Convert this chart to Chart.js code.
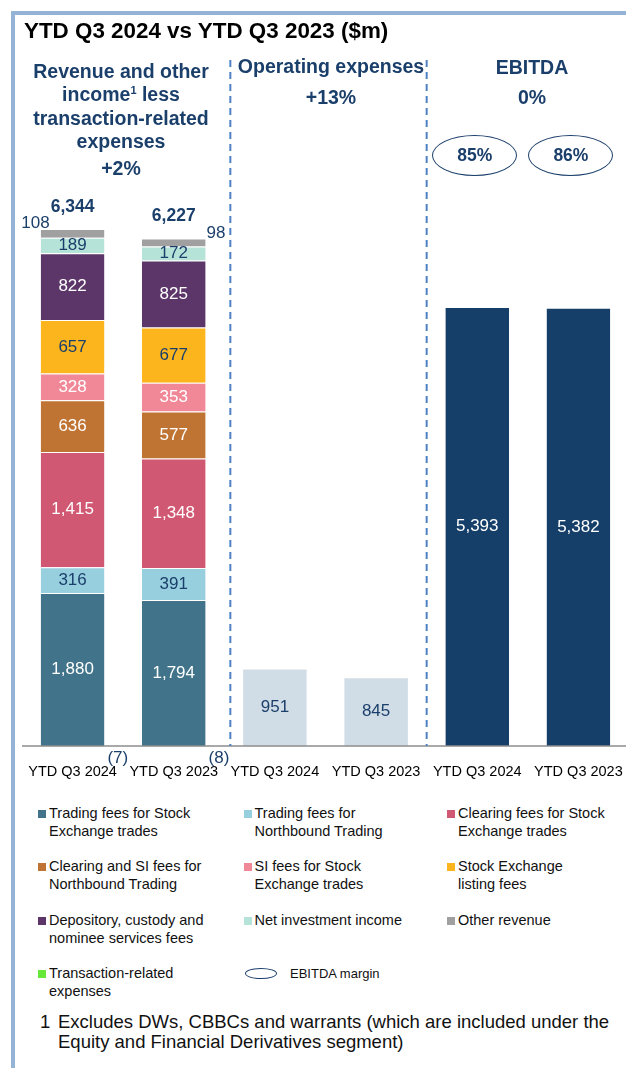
<!DOCTYPE html>
<html>
<head>
<meta charset="utf-8">
<script src="https://cdn.jsdelivr.net/npm/chart.js@4/dist/chart.umd.min.js"></script>
<style>
  html, body { margin: 0; padding: 0; width: 626px; height: 1068px; overflow: hidden; background: #fff; }
  body { position: relative; font-family: "Liberation Sans", Arial, sans-serif; }
  .frame { position: absolute; left: 11px; top: 11px; width: 700px; height: 1100px;
           border-left: 4px solid #95b3d7; border-top: 4px solid #95b3d7; }
  #chart { position: absolute; left: 0; top: 0; }
  .abs { position: absolute; white-space: nowrap; }
  .title { left: 24px; top: 20px; font-size: 22.4px; line-height: 22px; font-weight: bold; color: #000; }
  .head { font-weight: bold; font-size: 19.5px; color: #1b3f6b; text-align: center; }
  .head sup { font-size: 11px; line-height: 0; vertical-align: 7px; }
  .oval { width: 83px; height: 39px; border: 1.5px solid #1b3f6b; border-radius: 50%;
          text-align: center; line-height: 39px; font-weight: bold; font-size: 17.5px; color: #1b3f6b; }
  .leg { font-size: 14.5px; line-height: 17.5px; color: #111; }
  .leg .sw { position: absolute; left: 0; top: 5px; width: 8px; height: 8px; }
  .leg .tx { margin-left: 11px; }
  .foot { font-size: 18.5px; line-height: 20px; color: #111; }
</style>
</head>
<body>
<div class="frame"></div>
<canvas id="chart" width="640" height="790"></canvas>

<div class="abs title">YTD Q3 2024 vs YTD Q3 2023 ($m)</div>
<div class="abs head" style="left:21px;top:60px;width:200px;line-height:23.3px;">Revenue and other<br>income<sup>1</sup> less<br>transaction-related<br>expenses</div>
<div class="abs head" style="left:21px;top:157px;width:200px;line-height:23px;">+2%</div>
<div class="abs head" style="left:231px;top:55px;width:200px;line-height:23px;">Operating expenses</div>
<div class="abs head" style="left:231px;top:86px;width:200px;line-height:23px;">+13%</div>
<div class="abs head" style="left:432px;top:56px;width:200px;line-height:23px;">EBITDA</div>
<div class="abs head" style="left:432px;top:86px;width:200px;line-height:23px;">0%</div>
<div id="ovals"></div>
<div id="legend"></div>
<div class="abs foot" style="left:40px;top:1012px;">1</div>
<div class="abs foot" style="left:58px;top:1012px;">Excludes DWs, CBBCs and warrants (which are included under the<br>Equity and Financial Derivatives segment)</div>

<script>
const categories = ['YTD Q3 2024', 'YTD Q3 2023', 'YTD Q3 2024', 'YTD Q3 2023', 'YTD Q3 2024', 'YTD Q3 2023'];

// revenue components, YTD Q3 2024 / YTD Q3 2023
const tradingFeesSE = [1880, 1794];
const tradingFeesNB = [316, 391];
const clearingFeesSE = [1415, 1348];
const clearingSiFeesNB = [636, 577];
const siFeesSE = [328, 353];
const listingFees = [657, 677];
const depositoryFees = [822, 825];
const netInvestment = [189, 172];
const otherRevenue = [108, 98];
const transactionExp = [-7, -8];
const revenueTotals = [6344, 6227];

const opex = [951, 845];
const ebitda = [5393, 5382];
const ebitdaMargin = ['85%', '86%'];

const NAVY = '#1b3f6b';
const FONT = '"Liberation Sans", Arial, sans-serif';

const rev = a => [...a, null, null, null, null];
const mid = a => [null, null, ...a, null, null];
const right = a => [null, null, null, null, ...a];

const series = [
  { label: 'Trading fees for Stock\nExchange trades', data: rev(tradingFeesSE), color: '#41738a', txt: '#fff' },
  { label: 'Trading fees for\nNorthbound Trading', data: rev(tradingFeesNB), color: '#98cfdf', txt: NAVY },
  { label: 'Clearing fees for Stock\nExchange trades', data: rev(clearingFeesSE), color: '#d15872', txt: '#fff' },
  { label: 'Clearing and SI fees for\nNorthbound Trading', data: rev(clearingSiFeesNB), color: '#c07433', txt: '#fff' },
  { label: 'SI fees for Stock\nExchange trades', data: rev(siFeesSE), color: '#f08898', txt: '#fff' },
  { label: 'Stock Exchange\nlisting fees', data: rev(listingFees), color: '#fdb51d', txt: NAVY },
  { label: 'Depository, custody and\nnominee services fees', data: rev(depositoryFees), color: '#5d3669', txt: '#fff' },
  { label: 'Net investment income', data: rev(netInvestment), color: '#b5e3d8', txt: NAVY },
  { label: 'Other revenue', data: rev(otherRevenue), color: '#a0a0a0', txt: NAVY, mode: 'side' },
  { label: 'Transaction-related\nexpenses', data: rev(transactionExp), color: '#66e838', txt: NAVY, mode: 'below' },
  { label: 'Operating expenses', data: mid(opex), color: '#d1dde6', txt: NAVY, noLegend: true },
  { label: 'EBITDA', data: right(ebitda), color: '#153f69', txt: '#fff', noLegend: true }
];

const fmt = v => v < 0 ? '(' + Math.abs(v).toLocaleString('en-US') + ')' : v.toLocaleString('en-US');

const extras = {
  id: 'extras',
  afterDatasetsDraw(chart) {
    const ctx = chart.ctx;
    const xs = chart.scales.x, ys = chart.scales.y;
    const area = chart.chartArea;
    const zero = ys.getPixelForValue(0);

    // baseline
    ctx.save();
    ctx.strokeStyle = '#8c8c8c';
    ctx.lineWidth = 1.5;
    ctx.beginPath();
    ctx.moveTo(area.left, zero);
    ctx.lineTo(626, zero);
    ctx.stroke();

    // dashed separators
    ctx.strokeStyle = '#4f81c4';
    ctx.lineWidth = 2;
    ctx.setLineDash([7, 5]);
    [[1, 2, 6], [3, 4, 0]].forEach(([a, b, dx]) => {
      const x = (xs.getPixelForValue(a) + xs.getPixelForValue(b)) / 2 + dx;
      ctx.beginPath();
      ctx.moveTo(x, area.top);
      ctx.lineTo(x, zero);
      ctx.stroke();
    });
    ctx.setLineDash([]);

    // value labels
    ctx.textBaseline = 'middle';
    chart.data.datasets.forEach((ds, i) => {
      const meta = chart.getDatasetMeta(i);
      const s = series[i];
      meta.data.forEach((bar, j) => {
        const v = ds.data[j];
        if (v == null) return;
        const p = bar.getProps(['x', 'y', 'base', 'width'], true);
        const top = Math.min(p.y, p.base);
        ctx.fillStyle = s.txt;
        ctx.font = '17px ' + FONT;
        if (s.mode === 'side') {
          if (j === 0) { ctx.textAlign = 'right'; ctx.fillText(fmt(v), p.x - p.width / 2 + 9, top - 6); }
          else { ctx.textAlign = 'left'; ctx.fillText(fmt(v), p.x + p.width / 2 + 1, top - 5); }
        } else if (s.mode === 'below') {
          ctx.textAlign = 'left';
          ctx.fillText(fmt(v), p.x + p.width / 2 + 3, zero + 12);
        } else {
          ctx.textAlign = 'center';
          ctx.fillText(fmt(v), p.x, (p.y + p.base) / 2);
        }
      });
    });

    // totals above revenue bars
    const otherMeta = chart.getDatasetMeta(8);
    ctx.font = 'bold 17.5px ' + FONT;
    ctx.fillStyle = NAVY;
    ctx.textAlign = 'center';
    revenueTotals.forEach((t, j) => {
      const bar = otherMeta.data[j];
      ctx.fillText(fmt(t), bar.x, bar.y - 22);
    });
    ctx.restore();
  }
};

const chart = new Chart(document.getElementById('chart'), {
  type: 'bar',
  data: {
    labels: categories,
    datasets: series.map(s => ({
      label: s.label,
      data: s.data,
      backgroundColor: s.color,
      borderColor: 'rgba(255,255,255,0.35)',
      borderWidth: { top: 1, bottom: 0, left: 0, right: 0 },
      borderSkipped: false,
      stack: 'all',
      barPercentage: 0.63,
      categoryPercentage: 1
    }))
  },
  options: {
    responsive: false,
    animation: false,
    devicePixelRatio: 1,
    layout: { padding: { top: 60, left: 22, right: 11, bottom: 0 } },
    plugins: { legend: { display: false }, tooltip: { enabled: false } },
    scales: {
      x: {
        stacked: true,
        grid: { display: false, drawTicks: false },
        border: { display: false },
        ticks: { color: '#000', font: { family: FONT, size: 14.5 }, padding: 15, maxRotation: 0, autoSkip: false },
        afterFit: s => { s.height = 42; }
      },
      y: { stacked: true, display: false, min: -25, max: 8427 }
    }
  },
  plugins: [extras]
});

// EBITDA margin ovals above the EBITDA bars
const ovalBox = document.getElementById('ovals');
const ovalDx = [-2, -7];
ebitdaMargin.forEach((m, j) => {
  const x = chart.scales.x.getPixelForValue(4 + j) + ovalDx[j];
  const d = document.createElement('div');
  d.className = 'abs oval';
  d.style.left = (x - 43) + 'px';
  d.style.top = '135px';
  d.textContent = m;
  ovalBox.appendChild(d);
});

// legend built from the series
const legBox = document.getElementById('legend');
const colX = [38, 243.5, 447];
const rowY = [805, 858, 912, 965];
const legItems = series.filter(s => !s.noLegend);
legItems.forEach((s, k) => {
  const d = document.createElement('div');
  d.className = 'abs leg';
  d.style.left = colX[k % 3] + 'px';
  d.style.top = rowY[Math.floor(k / 3)] + 'px';
  d.innerHTML = '<div class="sw" style="background:' + s.color + '"></div><div class="tx">' +
    s.label.replace('\n', '<br>') + '</div>';
  legBox.appendChild(d);
});
const k = legItems.length;
const m = document.createElement('div');
m.className = 'abs leg';
m.style.left = '245px';
m.style.top = rowY[Math.floor(k / 3)] + 'px';
m.innerHTML = '<div style="position:absolute;left:0;top:3px;width:30px;height:9px;border:1.5px solid ' + NAVY +
  ';border-radius:50%"></div><div style="margin-left:45px;font-size:13px">EBITDA margin</div>';
legBox.appendChild(m);
</script>
</body>
</html>
